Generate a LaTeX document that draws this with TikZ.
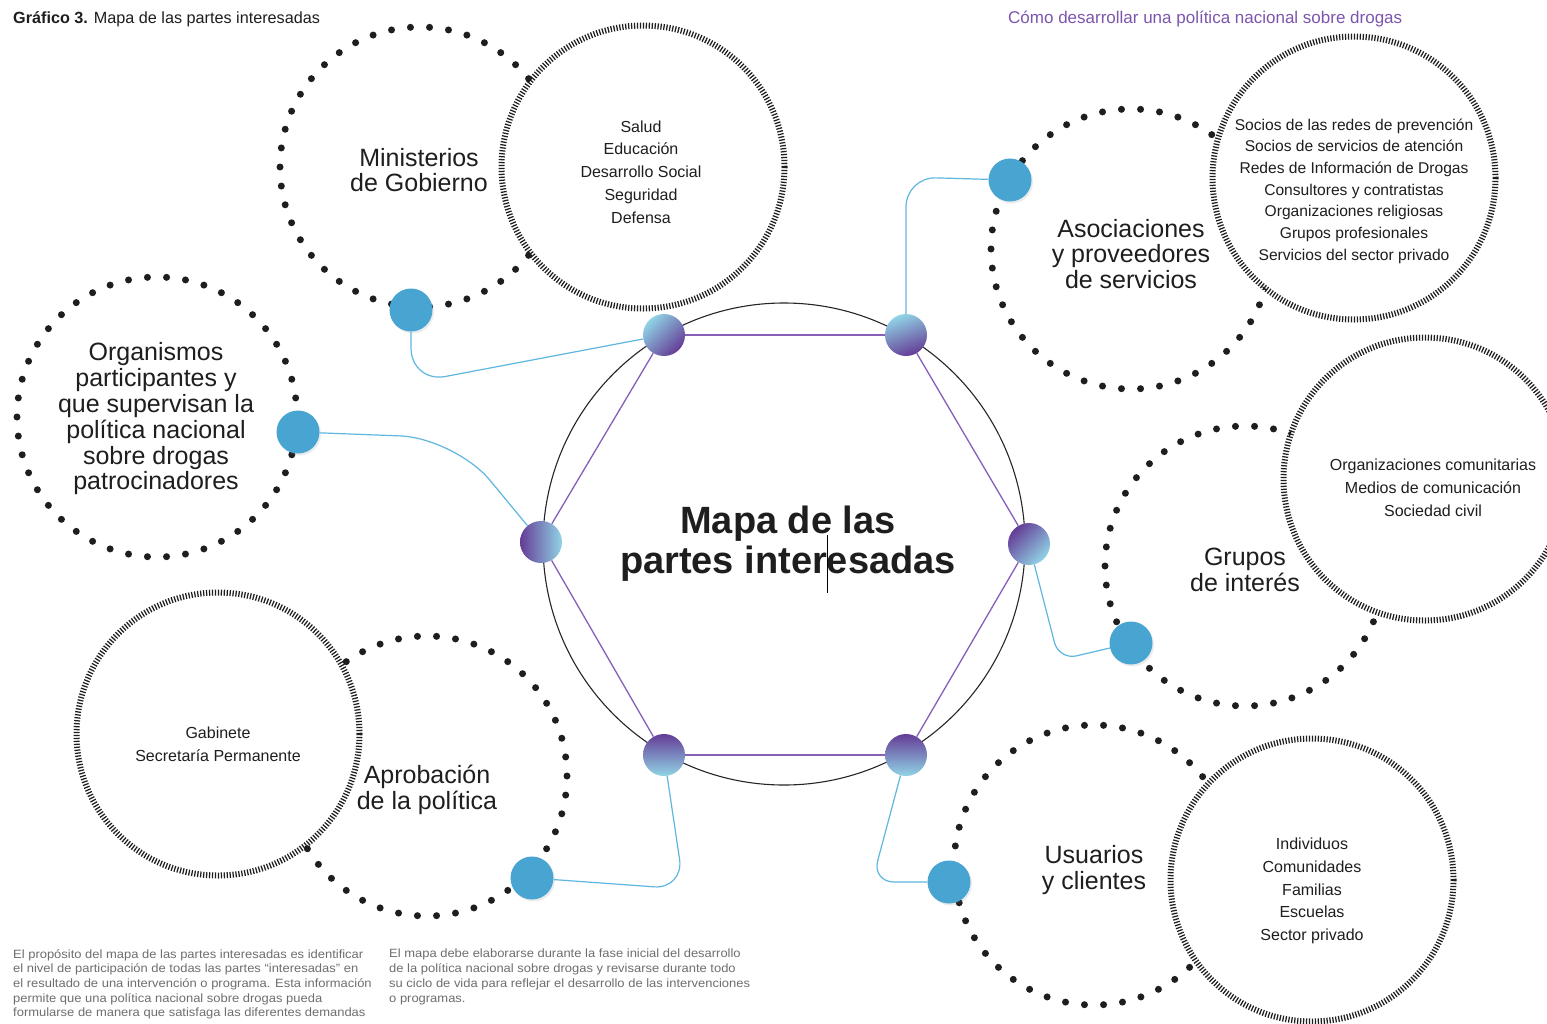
\documentclass[tikz,border=0pt]{standalone}
\usepackage{fontspec}
\setmainfont{Liberation Sans}
\newfontfamily\notefont[FakeStretch=1.08]{Liberation Sans}
\usetikzlibrary{shadows}
\definecolor{nodeblue}{RGB}{72,165,210}
\definecolor{connblue}{RGB}{95,182,224}
\definecolor{hexpurple}{RGB}{135,95,185}
\definecolor{gpurple}{RGB}{100,60,150}
\definecolor{glight}{RGB}{145,212,230}
\definecolor{titlepurple}{RGB}{125,85,175}
\definecolor{hatchgray}{RGB}{30,30,30}
\definecolor{notegray}{RGB}{110,110,110}
\definecolor{txt}{RGB}{30,30,30}
\tikzset{
 hatchcirc/.style={circle, draw=hatchgray, line width=6pt, dash pattern=on 1.25pt off 1.7pt, fill=white, minimum size=283pt, inner sep=0pt},
 bluedot/.style={circle, fill=nodeblue, minimum size=43pt, inner sep=0pt, drop shadow={opacity=0.15, shadow xshift=1.5pt, shadow yshift=-2pt}},
 hexnode/.style={circle, minimum size=42pt, inner sep=0pt, top color=glight, bottom color=gpurple},
 conn/.style={draw=connblue, line width=1.2pt},
 hexedge/.style={draw=hexpurple, line width=1.3pt},
 innertxt/.style={align=center, font=\fontsize{16}{22.8}\selectfont, text=txt, inner sep=0pt},
 labeltxt/.style={align=center, font=\fontsize{25}{25.8}\selectfont, text=txt, inner sep=0pt},
 notetxt/.style={align=left, anchor=north west, font=\notefont\fontsize{12}{14.7}\selectfont, text=notegray, inner sep=0pt},
 ringdot/.style={fill=txt},
}
\begin{document}
\begin{tikzpicture}[x=1pt,y=-1pt]
\useasboundingbox[fill=white] (0,0) rectangle (1547,1023);

% dotted rings
\foreach \cx/\cy in {420/167, 157/417, 427/776, 1131/249, 1245/566, 1094/865}{
  \foreach \k in {0,...,45}{
    \fill[ringdot] (\cx,\cy) ++(\k*360/46:140) circle (3.5);
  }
}

% hatched circles
\node[hatchcirc] (hSalud) at (643,167) {};
\node[hatchcirc] (hSocios) at (1354,178) {};
\node[hatchcirc] (hOrg) at (1425,479) {};
\node[hatchcirc] (hInd) at (1312,880) {};
\node[hatchcirc] (hGab) at (218,734) {};

% central circle
\draw[black!85, line width=1.1pt] (784,544) circle (241);

% hexagon nodes
\node[hexnode, shading angle=45] (hTL) at (664,335) {};
\node[hexnode, shading angle=20] (hTR) at (906,335) {};
\node[hexnode, shading angle=-90] (hL) at (541,542) {};
\node[hexnode, shading angle=-135] (hR) at (1029,544) {};
\node[hexnode, shading angle=180] (hBL) at (664,755) {};
\node[hexnode, shading angle=180] (hBR) at (906,755) {};

% blue nodes
\node[bluedot] (bMin) at (411,310) {};
\node[bluedot] (bOrg) at (298,432) {};
\node[bluedot] (bApr) at (532,878) {};
\node[bluedot] (bUsu) at (949,882) {};
\node[bluedot] (bGru) at (1131,643) {};
\node[bluedot] (bAso) at (1010,180) {};

% hexagon edges
\draw[hexedge] (hTL) -- (hTR);
\draw[hexedge] (hTR) -- (hR);
\draw[hexedge] (hR) -- (hBR);
\draw[hexedge] (hBR) -- (hBL);
\draw[hexedge] (hBL) -- (hL);
\draw[hexedge] (hL) -- (hTL);

% connectors
\draw[conn, rounded corners=35pt] (bMin) -- (411,383) -- (hTL);
\draw[conn, rounded corners=55pt] (bOrg) -- (455,438) -- (hL);
\draw[conn, rounded corners=30pt] (bApr) -- (684,889) -- (hBL);
\draw[conn, rounded corners=22pt] (bUsu) -- (872,882) -- (hBR);
\draw[conn, rounded corners=18pt] (hR) -- (1059,660) -- (bGru);
\draw[conn, rounded corners=30pt] (bAso) -- (906,177) -- (hTR);

% inner texts
\node[innertxt] (tSalud) at (641,172) {Salud\\Educación\\Desarrollo Social\\Seguridad\\Defensa};
\node[innertxt, font=\fontsize{15.6}{21.7}\selectfont] (tSocios) at (1354,191) {Socios de las redes de prevención\\Socios de servicios de atención\\Redes de Información de Drogas\\Consultores y contratistas\\Organizaciones religiosas\\Grupos profesionales\\Servicios del sector privado};
\node[innertxt] (tOrg) at (1433,488) {Organizaciones comunitarias\\Medios de comunicación\\Sociedad civil};
\node[innertxt] (tInd) at (1312,891) {Individuos\\Comunidades\\Familias\\Escuelas\\Sector privado};
\node[innertxt] (tGab) at (218,744) {Gabinete\\Secretaría Permanente};

% ring labels
\node[labeltxt] (lMin) at (419,170) {Ministerios\\de Gobierno};
\node[labeltxt] (lOrg) at (156,419) {Organismos\\participantes y\\que supervisan la\\política nacional\\sobre drogas\\patrocinadores};
\node[labeltxt] (lApr) at (427,790) {Aprobación\\de la política};
\node[labeltxt] (lAso) at (1131,254) {Asociaciones\\y proveedores\\de servicios};
\node[labeltxt] (lGru) at (1245,570) {Grupos\\de interés};
\node[labeltxt] (lUsu) at (1094,870) {Usuarios\\y clientes};

% central title
\node[align=center, font=\fontsize{38}{40}\selectfont\bfseries, text=txt, inner sep=0pt] (center) at (788,544) {Mapa de las\\partes interesadas};
\draw[black, line width=0.8pt] (827,535) -- (827,593);

% headers
\node[anchor=west, inner sep=0pt, text=txt, font=\fontsize{16.2}{18}\selectfont] (title) at (13,19) {\textbf{Gráfico 3.} Mapa de las partes interesadas};
\node[anchor=west, inner sep=0pt, text=titlepurple, font=\fontsize{17}{18}\selectfont] (subtitle) at (1008,19) {Cómo desarrollar una política nacional sobre drogas};

% notes
\node[notetxt] (note1) at (13,949) {El propósito del mapa de las partes interesadas es identificar\\el nivel de participación de todas las partes “interesadas” en\\el resultado de una intervención o programa. Esta información\\permite que una política nacional sobre drogas pueda\\formularse de manera que satisfaga las diferentes demandas};
\node[notetxt] (note2) at (389,949) {El mapa debe elaborarse durante la fase inicial del desarrollo\\de la política nacional sobre drogas y revisarse durante todo\\su ciclo de vida para reflejar el desarrollo de las intervenciones\\o programas.};
\end{tikzpicture}
\end{document}
